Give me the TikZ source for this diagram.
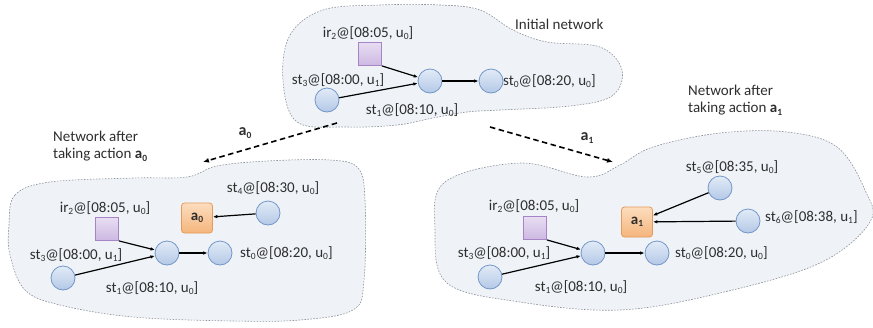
\documentclass[tikz,border=0pt]{standalone}
\usepackage{fontspec}
\setmainfont{Carlito}
\usetikzlibrary{arrows.meta}
\definecolor{cloudfill}{HTML}{EFF3F7}
\definecolor{cloudline}{HTML}{8A9099}
\definecolor{circtop}{HTML}{E2EBF7}
\definecolor{circbot}{HTML}{B3C8E6}
\definecolor{circline}{HTML}{7396C8}
\definecolor{sqtop}{HTML}{E8DDF2}
\definecolor{sqbot}{HTML}{CDB8E2}
\definecolor{sqline}{HTML}{A585C6}
\definecolor{ortop}{HTML}{FCDDBE}
\definecolor{orbot}{HTML}{F5B57C}
\definecolor{orline}{HTML}{E59A5A}
\definecolor{txt}{HTML}{2E2E2E}
\newcommand\sbs[1]{\raisebox{-0.35ex}{\fontsize{9.5}{10}\selectfont #1}}
\tikzset{
  cloud/.style={draw=cloudline, fill=cloudfill, line width=0.6pt, dash pattern=on 1.6pt off 1.4pt},
  circ/.style={circle, minimum size=24pt, inner sep=0pt, top color=circtop, bottom color=circbot, draw=circline, line width=0.8pt},
  sq/.style={rectangle, minimum size=23pt, inner sep=0pt, top color=sqtop, bottom color=sqbot, draw=sqline, line width=0.8pt},
  act/.style={rectangle, rounded corners=3pt, minimum width=31pt, minimum height=30pt, inner sep=0pt, top color=ortop, bottom color=orbot, draw=orline, line width=0.8pt, font=\bfseries\fontsize{15}{17}\selectfont, text=txt},
  lbl/.style={font=\fontsize{15}{17}\selectfont, text=txt, inner sep=0pt},
  edge/.style={line width=1.2pt, -{Latex[length=4.5pt,width=3.5pt]}},
  bigarrow/.style={line width=1.6pt, dash pattern=on 5.5pt off 3.5pt, -{Latex[length=6pt,width=5pt]}},
}
\begin{document}
\begin{tikzpicture}[x=1pt,y=-1pt]
\useasboundingbox (0,0) rectangle (873,327);
% clouds
\draw[cloud] plot[smooth cycle, tension=0.6] coordinates {(283,80) (290,35) (323,10) (380,5) (440,5) (480,10) (513,30) (547,42) (600,47) (622,70) (612,96) (570,106) (500,110) (467,112) (433,118) (397,125) (347,127) (297,122)};
\draw[cloud] plot[smooth cycle, tension=0.6] coordinates {(9,225) (15,195) (50,182) (133,178) (187,177) (217,166) (267,161) (330,160) (358,168) (365,200) (364,280) (353,310) (300,320) (233,321) (133,317) (60,305) (25,290) (10,255)};
\draw[cloud] plot[smooth cycle, tension=0.6] coordinates {(435,230) (445,182) (520,163) (587,177) (620,165) (653,147) (720,133) (787,132) (837,147) (865,190) (870,222) (820,263) (720,293) (620,310) (520,302) (447,283)};

% ---------- top network ----------
\node[sq]   (tir)  at (370,54) {};
\node[circ] (tmid) at (430,81) {};
\node[circ] (tst0) at (491,81) {};
\node[circ] (tst3) at (327,100) {};
\node[lbl] (tirl) at (368,33) {ir\sbs{2}@[08:05, u\sbs{0}]};
\node[lbl, anchor=west] (tst0l) at (503,81) {st\sbs{0}@[08:20, u\sbs{0}]};
\node[lbl] (tst3l) at (338,80) {st\sbs{3}@[08:00, u\sbs{1}]};
\node[lbl] (tst1l) at (412,110) {st\sbs{1}@[08:10, u\sbs{0}]};
\node[lbl, anchor=west] (title) at (515,24) {Initial network};
\draw[edge] (tir.south east) -- (tmid);
\draw[edge] (tst3) -- (tmid);
\draw[edge] (tmid) -- (tst0);

% ---------- left network ----------
\node[sq]   (lir)  at (107,229) {};
\node[act]  (la0)  at (197,218) {a\sbs{0}};
\node[circ] (lst4) at (268,213) {};
\node[circ] (lmid) at (167,253) {};
\node[circ] (lst0) at (220,253) {};
\node[circ] (lst3) at (63,278) {};
\node[lbl] (lirl) at (105,208) {ir\sbs{2}@[08:05, u\sbs{0}]};
\node[lbl] (lst4l) at (273,188) {st\sbs{4}@[08:30, u\sbs{0}]};
\node[lbl, anchor=west] (lst0l) at (240,253) {st\sbs{0}@[08:20, u\sbs{0}]};
\node[lbl] (lst3l) at (76,255) {st\sbs{3}@[08:00, u\sbs{1}]};
\node[lbl] (lst1l) at (152,288) {st\sbs{1}@[08:10, u\sbs{0}]};
\node[lbl, anchor=north west, align=left] (ltitle) at (53,131) {Network after\\taking action \textbf{a\sbs{0}}};
\draw[edge] (lir.south east) -- (lmid);
\draw[edge] (lst3) -- (lmid);
\draw[edge] (lmid) -- (lst0);
\draw[edge] (lst4) -- (la0);

% ---------- right network ----------
\node[sq]   (rir)  at (535,228) {};
\node[act]  (ra1)  at (637,222) {a\sbs{1}};
\node[circ] (rst5) at (720,188) {};
\node[circ] (rst6) at (748,221) {};
\node[circ] (rmid) at (593,253) {};
\node[circ] (rst0) at (657,253) {};
\node[circ] (rst3) at (490,277) {};
\node[lbl] (rirl) at (534,206) {ir\sbs{2}@[08:05, u\sbs{0}]};
\node[lbl] (rst5l) at (732,167) {st\sbs{5}@[08:35, u\sbs{0}]};
\node[lbl, anchor=west] (rst6l) at (765,217) {st\sbs{6}@[08:38, u\sbs{1}]};
\node[lbl, anchor=west] (rst0l) at (675,253) {st\sbs{0}@[08:20, u\sbs{0}]};
\node[lbl] (rst3l) at (504,253) {st\sbs{3}@[08:00, u\sbs{1}]};
\node[lbl] (rst1l) at (581,287) {st\sbs{1}@[08:10, u\sbs{0}]};
\node[lbl, anchor=north west, align=left] (rtitle) at (688,85) {Network after\\taking action \textbf{a\sbs{1}}};
\draw[edge] (rir.south east) -- (rmid);
\draw[edge] (rst3) -- (rmid);
\draw[edge] (rmid) -- (rst0);
\draw[edge] (rst5) -- (ra1);
\draw[edge] (rst6) -- (ra1);

% ---------- transitions ----------
\coordinate (la) at (337,123);
\coordinate (lb) at (203,162);
\coordinate (ra) at (490,127);
\coordinate (rb) at (613,162);
\draw[bigarrow] (la) -- (lb);
\draw[bigarrow] (ra) -- (rb);
\node[lbl, font=\bfseries\fontsize{16}{18}\selectfont] (a0l) at (245,133) {a\sbs{0}};
\node[lbl, font=\bfseries\fontsize{16}{18}\selectfont] (a1l) at (587,138) {a\sbs{1}};
\end{tikzpicture}
\end{document}
